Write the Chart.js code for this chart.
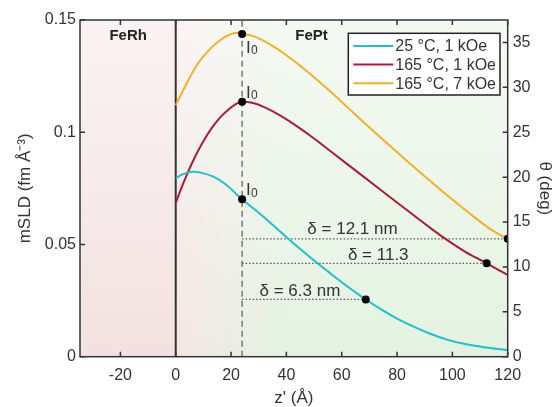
<!DOCTYPE html>
<html>
<head>
<meta charset="utf-8">
<title>mSLD profile FeRh / FePt</title>
<script src="https://cdn.jsdelivr.net/npm/chart.js@4.4.0/dist/chart.umd.min.js"></script>
<style>
body { margin: 0; background: #fff; }
</style>
</head>
<body>
<canvas id="sldChart" width="560" height="407"></canvas>
<script>
// values
const seriesNames = ['25 °C, 1 kOe', '165 °C, 1 kOe', '165 °C, 7 kOe'];

const zCyan = [0, 2, 4, 6.4, 9, 13.6, 18, 24, 30, 35, 40.7, 45, 51.5, 55, 60, 65, 68.7, 75, 80, 86, 92, 98, 105, 112, 120];
const sldCyan = [0.0795, 0.081, 0.0819, 0.0824, 0.082, 0.0802, 0.0768, 0.0701, 0.0641, 0.0588, 0.0526, 0.048, 0.0414, 0.038, 0.0332, 0.0287, 0.0255, 0.0205, 0.017, 0.0134, 0.0102, 0.0076, 0.0055, 0.0041, 0.003];

const zRed = [0, 2, 4, 6, 8, 10, 13, 16, 19, 22, 24, 28, 32, 37.7, 44, 50, 56, 62, 68, 74, 80, 86, 92, 97.5, 105, 112.4, 120];
const sldRed = [0.0685, 0.075, 0.081, 0.0865, 0.0915, 0.096, 0.1018, 0.1065, 0.110, 0.1127, 0.1136, 0.113, 0.1112, 0.1075, 0.1025, 0.0972, 0.0915, 0.0858, 0.0801, 0.0744, 0.0687, 0.063, 0.0574, 0.0525, 0.0465, 0.0416, 0.0364];

const zOrange = [0, 2, 4, 6, 8, 10, 13, 16, 19, 22, 24, 28, 32, 36, 40, 45, 50, 55, 60, 65, 71.4, 77, 83.5, 89, 95.5, 101, 107.6, 114, 120];
const sldOrange = [0.112, 0.117, 0.1218, 0.1265, 0.1305, 0.1338, 0.1378, 0.141, 0.1432, 0.1443, 0.1438, 0.1428, 0.1406, 0.1377, 0.1343, 0.1296, 0.1245, 0.1191, 0.1135, 0.1078, 0.1006, 0.0944, 0.0873, 0.0814, 0.0746, 0.069, 0.0625, 0.0566, 0.0525];

// I0 points (at the dashed line) and delta points
const i0Z = [24, 24, 24];
const i0Sld = [0.0701, 0.1136, 0.1438];
const deltaZ = [68.7, 112.4, 120];
const deltaSld = [0.0255, 0.0416, 0.0525];
const deltaText = ['δ = 6.3 nm', 'δ = 11.3', 'δ = 12.1 nm'];

const interfaceZ = 0;
const i0LineZ = 24;
const topMarkZ = [13.6, 120.6];

const xTicks = [-20, 0, 20, 40, 60, 80, 100, 120];
const yTicks = [0, 0.05, 0.1, 0.15];
const thetaTicks = [0, 5, 10, 15, 20, 25, 30, 35];

const colors = ['#22bfc8', '#a81c3c', '#f0b02c'];
const FONT = "'Liberation Sans', Arial, sans-serif";
const TXT = '#333';

function pts(xs, ys) { return xs.map((v, i) => ({x: v, y: ys[i]})); }

const curves = [[zCyan, sldCyan], [zRed, sldRed], [zOrange, sldOrange]];
const datasets = curves.map((c, i) => ({
  label: seriesNames[i],
  data: pts(c[0], c[1]),
  showLine: true, borderColor: colors[i], borderWidth: 2,
  pointRadius: 0, cubicInterpolationMode: 'monotone', order: 2
}));

// interface line and I0 dashed line
datasets.push({label: '_iface', data: pts([interfaceZ, interfaceZ], [0, 0.15]), showLine: true,
  borderColor: '#333', borderWidth: 2, pointRadius: 0, order: 5});
datasets.push({label: '_i0line', data: pts([i0LineZ, i0LineZ], [0, 0.15]), showLine: true,
  borderColor: '#777', borderWidth: 1.5, borderDash: [6, 4], pointRadius: 0, order: 5});
// dotted delta lines
deltaZ.forEach((z, i) => {
  datasets.push({label: '_dl' + i, data: pts([i0LineZ, z], [deltaSld[i], deltaSld[i]]), showLine: true,
    borderColor: '#555', borderWidth: 1.2, borderDash: [1.5, 2], pointRadius: 0, order: 4});
});
datasets.push({label: '_i0pts', data: pts(i0Z, i0Sld), pointRadius: 4, pointBackgroundColor: '#000',
  pointBorderWidth: 0, order: 0});
datasets.push({label: '_dpts', data: pts(deltaZ, deltaSld), pointRadius: 4, pointBackgroundColor: '#000',
  pointBorderWidth: 0, order: 0});
datasets.push({label: '_top', data: pts(topMarkZ, [0.1532, 0.1532]), pointStyle: 'triangle', rotation: 180,
  pointRadius: 3, pointBackgroundColor: '#000', pointBorderWidth: 0, clip: false, order: 0});

const framePlugin = {
  id: 'frame',
  beforeDraw(chart) {
    const {ctx, chartArea: a, scales: {x}} = chart;
    const x0 = x.getPixelForValue(interfaceZ);
    ctx.save();
    let g = ctx.createLinearGradient(0, a.top, 0, a.bottom);
    g.addColorStop(0, '#faf3f3');
    g.addColorStop(1, '#f3e1e1');
    ctx.fillStyle = g;
    ctx.fillRect(a.left, a.top, x0 - a.left, a.height);
    g = ctx.createLinearGradient(x0, 0, x.getPixelForValue(40), 0);
    g.addColorStop(0, '#f3e6e4');
    g.addColorStop(1, '#e4f3e1');
    ctx.fillStyle = g;
    ctx.fillRect(x0, a.top, a.right - x0, a.height);
    g = ctx.createLinearGradient(0, a.top, 0, a.bottom);
    g.addColorStop(0, 'rgba(255,255,255,0.6)');
    g.addColorStop(1, 'rgba(255,255,255,0)');
    ctx.fillStyle = g;
    ctx.fillRect(x0, a.top, a.right - x0, a.height);
    ctx.restore();
  },
  afterDatasetsDraw(chart) {
    const {ctx, chartArea: a, scales: {x, y, y2}} = chart;
    ctx.save();
    // box and inward ticks
    ctx.strokeStyle = '#333';
    ctx.lineWidth = 1.5;
    ctx.strokeRect(a.left, a.top, a.width, a.height);
    ctx.beginPath();
    xTicks.forEach(v => {
      const p = x.getPixelForValue(v);
      ctx.moveTo(p, a.bottom); ctx.lineTo(p, a.bottom - 5);
      ctx.moveTo(p, a.top); ctx.lineTo(p, a.top + 5);
    });
    yTicks.forEach(v => {
      const p = y.getPixelForValue(v);
      ctx.moveTo(a.left, p); ctx.lineTo(a.left + 5, p);
    });
    thetaTicks.forEach(v => {
      const p = y2.getPixelForValue(v);
      ctx.moveTo(a.right, p); ctx.lineTo(a.right - 5, p);
    });
    ctx.stroke();

    // region names
    ctx.fillStyle = '#222';
    ctx.font = 'bold 15px ' + FONT;
    ctx.textAlign = 'center';
    ctx.textBaseline = 'middle';
    ctx.fillText('FeRh', x.getPixelForValue(-17.2), y.getPixelForValue(0.1429));
    ctx.fillText('FePt', x.getPixelForValue(49.1), y.getPixelForValue(0.1429));

    // delta labels
    ctx.font = '17px ' + FONT;
    ctx.fillStyle = TXT;
    const deltaPos = [[44.9, 0.029], [73.2, 0.0453], [63.9, 0.0568]];
    deltaText.forEach((t, i) => {
      ctx.fillText(t, x.getPixelForValue(deltaPos[i][0]), y.getPixelForValue(deltaPos[i][1]));
    });

    // I0 labels
    ctx.textAlign = 'left';
    ctx.textBaseline = 'alphabetic';
    i0Sld.forEach((v, i) => {
      const px = x.getPixelForValue(i0Z[i]) + 4;
      const py = y.getPixelForValue(v) + (i === 2 ? 19 : -4);
      ctx.font = '17px ' + FONT;
      ctx.fillText('I', px, py);
      ctx.font = '12px ' + FONT;
      ctx.fillText('0', px + 5, py + 1.5);
    });

    // legend
    const lx = a.right - 159.4, ly = a.top + 13.3, lw = 151.7, lh = 61.7;
    ctx.fillStyle = '#fff';
    ctx.fillRect(lx, ly, lw, lh);
    ctx.strokeStyle = '#222';
    ctx.lineWidth = 1.5;
    ctx.strokeRect(lx, ly, lw, lh);
    ctx.font = '16px ' + FONT;
    ctx.textBaseline = 'middle';
    seriesNames.forEach((n, i) => {
      const ry = ly + 12.7 + i * 18.6;
      ctx.strokeStyle = colors[i];
      ctx.lineWidth = 2;
      ctx.beginPath();
      ctx.moveTo(lx + 5, ry); ctx.lineTo(lx + 45, ry);
      ctx.stroke();
      ctx.fillStyle = TXT;
      ctx.fillText(n, lx + 47, ry + 1);
    });
    ctx.restore();
  }
};

const tickFont = {family: FONT, size: 16};
const titleFont = {family: FONT, size: 17};

new Chart(document.getElementById('sldChart').getContext('2d'), {
  type: 'scatter',
  data: {datasets: datasets},
  options: {
    responsive: false,
    animation: false,
    layout: {padding: {top: 20, left: 0, right: 0, bottom: 0}},
    plugins: {legend: {display: false}, tooltip: {enabled: false}},
    scales: {
      x: {
        type: 'linear', min: -34.6, max: 120,
        afterBuildTicks: s => { s.ticks = xTicks.map(v => ({value: v})); },
        afterFit: s => { s.height = 50.3; },
        grid: {display: false, drawTicks: false}, border: {display: false},
        ticks: {font: tickFont, color: TXT, padding: 9, maxRotation: 0, autoSkip: false},
        title: {display: true, text: "z' (Å)", font: {family: FONT, size: 17, lineHeight: 1}, color: TXT, padding: {top: 0, bottom: 0}}
      },
      y: {
        type: 'linear', position: 'left', min: 0, max: 0.15,
        afterBuildTicks: s => { s.ticks = yTicks.map(v => ({value: v})); },
        afterFit: s => { s.width = 80; },
        grid: {display: false, drawTicks: false}, border: {display: false},
        ticks: {font: tickFont, color: TXT, padding: 4, callback: v => String(Number(v.toFixed(3)))},
        title: {display: true, text: 'mSLD (fm Å⁻³)', font: titleFont, color: TXT, padding: {top: 15, bottom: 0}}
      },
      y2: {
        type: 'linear', position: 'right', min: 0, max: 37.5,
        afterBuildTicks: s => { s.ticks = thetaTicks.map(v => ({value: v})); },
        afterFit: s => { s.width = 52.3; },
        grid: {display: false, drawTicks: false}, border: {display: false},
        ticks: {font: tickFont, color: TXT, padding: 5},
        title: {display: true, text: 'θ (deg)', font: titleFont, color: TXT, padding: {top: 5, bottom: 0}}
      }
    }
  },
  plugins: [framePlugin]
});
</script>
</body>
</html>
